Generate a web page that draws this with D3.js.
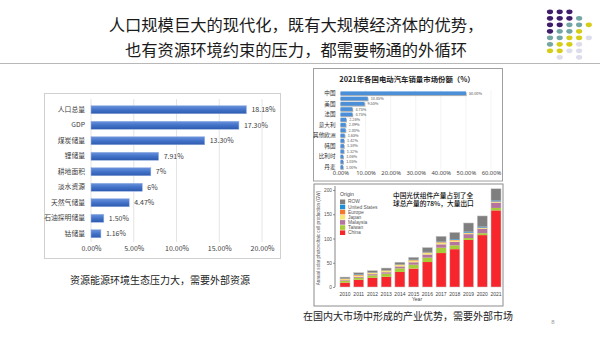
<!DOCTYPE html>
<html><head><meta charset="utf-8">
<script src="https://cdn.jsdelivr.net/npm/d3@7"></script>
<style>
html,body{margin:0;padding:0;background:#fff;}
svg{display:block;font-family:"Noto Sans CJK SC","Noto Sans",sans-serif;}
</style></head>
<body>
<svg id="c" width="600" height="338"></svg>
<script>
// ---------- DATA ----------
const titleLines = ["人口规模巨大的现代化，既有大规模经济体的优势，", "也有资源环境约束的压力，都需要畅通的外循环"];

const resCategories = ["人口总量","GDP","煤炭储量","锂储量","耕地面积","淡水资源","天然气储量","石油探明储量","钴储量"];
const resValues = [18.18, 17.30, 13.30, 7.91, 7, 6, 4.47, 1.50, 1.16];
const resValueLabels = ["18.18%","17.30%","13.30%","7.91%","7%","6%","4.47%","1.50%","1.16%"];
const resTicks = [0, 5, 10, 15, 20];
const resCaption = "资源能源环境生态压力大，需要外部资源";

const evTitle = "2021年各国电动汽车销量市场份额（%）";
const evCategories = ["中国","德国","美国","英国","法国","挪威","意大利","瑞典","其他欧洲","荷兰","韩国","日本","比利时","加拿大","丹麦"];
const evValues = [50.00, 10.85, 9.55, 4.75, 4.75, 2.26, 2.09, 2.00, 1.65, 1.42, 1.38, 1.32, 1.06, 1.05, 1.00];
const evTicks = [0, 10, 20, 30, 40, 50, 60];

const pvYears = ["2010","2011","2012","2013","2014","2015","2016","2017","2018","2019","2020","2021"];
const pvChina    = [9, 15, 19, 21, 31, 38, 51.5, 70, 78, 97, 107, 158];
const pvTaiwan   = [3.5, 4, 5, 6.5, 7.5, 8, 9, 11, 8, 4, 4, 5];
const pvMalaysia = [1.5, 2, 2.5, 3, 4, 5, 6.5, 7, 7, 8, 9, 11];
const pvJapan    = [2.2, 2.5, 2.5, 3, 3, 3.5, 3.5, 3.5, 3, 2, 1.5, 1.5];
const pvEurope   = [1.5, 1.5, 1, 1, 1, 1, 1, 1, 1, 1, 1, 1];
const pvUS       = [0.8, 1, 0.7, 0.6, 0.6, 0.7, 0.8, 1, 1.5, 2, 2, 2];
const pvROW      = [2, 3.5, 3, 4, 4, 5, 9, 11, 14, 18, 22, 24];
const pvSeries = ["China","Taiwan","Malaysia","Japan","Europe","United States","ROW"];
const pvLegendOrder = ["ROW","United States","Europe","Japan","Malaysia","Taiwan","China"];
const pvColors = {"ROW":"#7f7f7f","United States":"#1f8ed8","Europe":"#f5772b","Japan":"#f8e57a","Malaysia":"#b5749e","Taiwan":"#a8cc38","China":"#f7262c"};
const pvTicks = [0, 50, 100, 150, 200];
const pvNote = ["中国光伏组件产量占到了全", "球总产量的78%，大量出口"];
const pvCaption = "在国内大市场中形成的产业优势，需要外部市场";
const pageNo = "8";

// decorative dot grid (row pattern of colour codes)
const dotRows = ["PPP..","PPPT.","PPTTY","PTTY.","TTYYL","TYYL.","YYLL.",".L.L."];
const dotColors = {P:"#3f1d6c", T:"#74a6a3", Y:"#d5cd17", L:"#dcdcec"};

// ---------- DRAW ----------
const svg = d3.select("#c");
const defs = svg.append("defs");
const g1 = defs.append("linearGradient").attr("id","blueGrad").attr("x1",0).attr("y1",0).attr("x2",0).attr("y2",1);
g1.append("stop").attr("offset","0%").attr("stop-color","#6b93dc");
g1.append("stop").attr("offset","50%").attr("stop-color","#4272c8");
g1.append("stop").attr("offset","100%").attr("stop-color","#2d5aae");

// title
svg.append("g").selectAll("text").data(titleLines).join("text")
  .attr("x", 296).attr("y", (d,i)=> 31 + i*25)
  .attr("text-anchor","middle").attr("font-size",16.3).attr("fill","#1a1a1a")
  .text(d=>d);
svg.append("line").attr("x1",0).attr("x2",600).attr("y1",63.5).attr("y2",63.5)
  .attr("stroke","#b8b8b8").attr("stroke-width",1);

// dots
const dotG = svg.append("g");
dotRows.forEach((row, r) => {
  row.split("").forEach((ch, c) => {
    if (ch === ".") return;
    dotG.append("ellipse").attr("cx", 550 + c*9.7).attr("cy", 11.8 + r*6.5)
      .attr("rx", 3.1).attr("ry", 2.4).attr("fill", dotColors[ch]);
  });
});

// ---------- Left chart ----------
svg.append("rect").attr("x",44.5).attr("y",93.5).attr("width",236).attr("height",165)
  .attr("fill","#fff").attr("stroke","#d0d0d0");
const lx = d3.scaleLinear().domain([0,20]).range([91,262]);
const ly = d3.scaleBand().domain(resCategories).range([102,241.5]).paddingInner(0.48).paddingOuter(0.24);
const lg = svg.append("g");
lg.selectAll("line.grid").data(resTicks).join("line").attr("class","grid")
  .attr("x1",d=>lx(d)).attr("x2",d=>lx(d)).attr("y1",99).attr("y2",242)
  .attr("stroke","#dedede").attr("stroke-width",0.8);
lg.selectAll("rect.bar").data(resValues).join("rect").attr("class","bar")
  .attr("x",lx(0)).attr("y",(d,i)=>ly(resCategories[i]))
  .attr("width",d=>lx(d)-lx(0)).attr("height",ly.bandwidth())
  .attr("fill","url(#blueGrad)").attr("stroke","#9bb5e6").attr("stroke-width",0.5);
lg.selectAll("text.val").data(resValueLabels).join("text").attr("class","val")
  .attr("x",(d,i)=>lx(resValues[i])+5).attr("y",(d,i)=>ly(resCategories[i])+ly.bandwidth()/2+2.4)
  .attr("font-size",7).attr("fill","#404040").text(d=>d);
const lAxisY = d3.axisLeft(ly).tickSize(0).tickPadding(6);
lg.append("g").attr("transform",`translate(${lx(0)},0)`).call(lAxisY)
  .call(g=>g.select(".domain").remove())
  .selectAll("text").attr("font-size",6.8).attr("fill","#404040")
  .attr("font-family",'"Noto Sans CJK SC",sans-serif');
const lAxisX = d3.axisBottom(lx).tickValues(resTicks).tickSize(0).tickPadding(0)
  .tickFormat(d=>d.toFixed(2)+"%");
lg.append("g").attr("transform","translate(0,246)").call(lAxisX)
  .call(g=>g.select(".domain").remove())
  .selectAll("text").attr("font-size",7).attr("fill","#404040")
  .attr("font-family",'"Noto Sans CJK SC",sans-serif');
svg.append("text").attr("x",160).attr("y",284).attr("text-anchor","middle")
  .attr("font-size",10).attr("fill","#222").text(resCaption);

// ---------- EV chart ----------
svg.append("rect").attr("x",313.5).attr("y",68.5).attr("width",189).attr("height",112.5)
  .attr("fill","#fff").attr("stroke","#a0a0a0");
svg.append("text").attr("x",407).attr("y",81.5).attr("text-anchor","middle")
  .attr("font-size",7.4).attr("font-weight","bold").attr("fill","#222").text(evTitle);
const ex = d3.scaleLinear().domain([0,60]).range([340.5,491]);
const ey = d3.scaleBand().domain(evCategories).range([91.4,168.9]).paddingInner(0.3);
const eg = svg.append("g");
eg.selectAll("line.grid").data(evTicks.slice(1)).join("line").attr("class","grid")
  .attr("x1",d=>ex(d)).attr("x2",d=>ex(d)).attr("y1",90).attr("y2",169)
  .attr("stroke","#ececec").attr("stroke-width",0.6);
eg.selectAll("rect.sh").data(evValues).join("rect").attr("class","sh")
  .attr("x",ex(0)).attr("y",(d,i)=>ey(evCategories[i])+1)
  .attr("width",d=>ex(d)-ex(0)+0.8).attr("height",ey.bandwidth())
  .attr("fill","#b4b4b4");
eg.selectAll("rect.bar").data(evValues).join("rect").attr("class","bar")
  .attr("x",ex(0)).attr("y",(d,i)=>ey(evCategories[i]))
  .attr("width",d=>ex(d)-ex(0)).attr("height",ey.bandwidth())
  .attr("fill","#4a8fd8");
eg.selectAll("text.val").data(evValues).join("text").attr("class","val")
  .attr("x",d=>ex(d)+3).attr("y",(d,i)=>ey(evCategories[i])+ey.bandwidth()/2+1.5)
  .attr("font-size",3.8).attr("fill","#555").text(d=>d.toFixed(2)+"%");
const eAxisY = d3.axisLeft(ey).tickSize(0).tickPadding(5)
  .tickValues(evCategories.filter((d,i)=>i%2===0));
eg.append("g").attr("transform",`translate(${ex(0)},0)`).call(eAxisY)
  .call(g=>g.select(".domain").remove())
  .selectAll("text").attr("font-size",5.6).attr("fill","#333")
  .attr("font-family",'"Noto Sans CJK SC",sans-serif');
const eAxisX = d3.axisBottom(ex).tickValues(evTicks).tickSize(0).tickPadding(0)
  .tickFormat(d=>d.toFixed(2)+"%");
eg.append("g").attr("transform","translate(0,171)").call(eAxisX)
  .call(g=>g.select(".domain").remove())
  .selectAll("text").attr("font-size",5.8).attr("fill","#444")
  .attr("font-family",'"Noto Sans",sans-serif');

// ---------- PV chart ----------
svg.append("rect").attr("x",314).attr("y",184).attr("width",189).attr("height",122)
  .attr("fill","#fff").attr("stroke","#8c8c8c");
const px = d3.scaleBand().domain(pvYears).range([338.2,502.8]).paddingInner(0.27).paddingOuter(0.13);
const py = d3.scaleLinear().domain([0,200]).range([287,190]);
const pvTable = pvYears.map((y,i)=>({year:y, China:pvChina[i], Taiwan:pvTaiwan[i], Malaysia:pvMalaysia[i],
  Japan:pvJapan[i], Europe:pvEurope[i], "United States":pvUS[i], ROW:pvROW[i]}));
const stack = d3.stack().keys(pvSeries)(pvTable);
const pg = svg.append("g");
pg.selectAll("g.layer").data(stack).join("g").attr("class","layer")
  .attr("fill",d=>pvColors[d.key])
  .selectAll("rect").data(d=>d).join("rect")
  .attr("x",d=>px(d.data.year)).attr("width",px.bandwidth())
  .attr("y",d=>py(d[1])).attr("height",d=>py(d[0])-py(d[1]));
// outline of bars
pg.selectAll("rect.ol").data(pvTable).join("rect").attr("class","ol")
  .attr("x",d=>px(d.year)).attr("width",px.bandwidth())
  .attr("y",d=>py(d3.sum(pvSeries,k=>d[k]))).attr("height",d=>py(0)-py(d3.sum(pvSeries,k=>d[k])))
  .attr("fill","none").attr("stroke","#c8c8c8").attr("stroke-width",0.5);
const pAxisY = d3.axisLeft(py).tickValues(pvTicks).tickSize(2).tickPadding(1);
pg.append("g").attr("transform","translate(335,0)").call(pAxisY)
  .call(g=>g.select(".domain").attr("d","M0,186V287").attr("stroke","#333").attr("stroke-width",0.6))
  .call(g=>g.selectAll("line").attr("stroke","#333").attr("stroke-width",0.5))
  .selectAll("text").attr("font-size",4.8).attr("fill","#555").attr("font-family","Arial,sans-serif");
const pAxisX = d3.axisBottom(px).tickSize(0).tickPadding(3);
pg.append("g").attr("transform","translate(0,289)").call(pAxisX)
  .call(g=>g.select(".domain").remove())
  .selectAll("text").attr("font-size",5).attr("fill","#444").attr("font-family","Arial,sans-serif");
pg.append("text").attr("x",417).attr("y",301).attr("text-anchor","middle")
  .attr("font-size",5).attr("fill","#444").attr("font-family","Arial,sans-serif").text("Year");
pg.append("text").attr("transform","translate(320,238) rotate(-90)").attr("text-anchor","middle")
  .attr("font-size",4.6).attr("fill","#555").attr("font-family","Arial,sans-serif")
  .text("Annual solar photovoltaic cell production (GW)");
// legend
const leg = pg.append("g");
leg.append("text").attr("x",340).attr("y",196).attr("font-size",5.2).attr("fill","#444")
  .attr("font-family","Arial,sans-serif").text("Origin");
const li = leg.selectAll("g.li").data(pvLegendOrder).join("g").attr("class","li")
  .attr("transform",(d,i)=>`translate(340,${199.5 + i*5.15})`);
li.append("rect").attr("width",5.2).attr("height",4.6).attr("fill",d=>pvColors[d]);
li.append("text").attr("x",8).attr("y",3.9).attr("font-size",4.9).attr("fill","#555")
  .attr("font-family","Arial,sans-serif").text(d=>d);
// annotation
pg.selectAll("text.note").data(pvNote).join("text").attr("class","note")
  .attr("x",393).attr("y",(d,i)=>197.5+i*8.8).attr("font-size",6.7).attr("fill","#111")
  .attr("font-weight",500).text(d=>d);
svg.append("text").attr("x",408).attr("y",320).attr("text-anchor","middle")
  .attr("font-size",10).attr("fill","#222").text(pvCaption);
svg.append("text").attr("x",553).attr("y",324).attr("text-anchor","middle")
  .attr("font-size",6).attr("fill","#999").attr("font-family","Arial,sans-serif").text(pageNo);
</script>
</body></html>
